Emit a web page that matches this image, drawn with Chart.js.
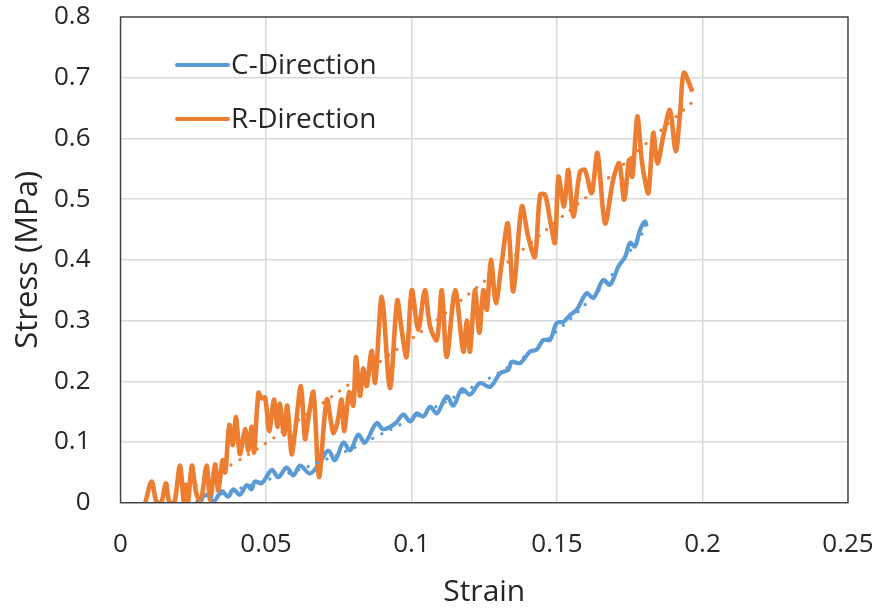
<!DOCTYPE html>
<html>
<head>
<meta charset="utf-8">
<script src="https://cdn.jsdelivr.net/npm/chart.js@4/dist/chart.umd.min.js"></script>
<style>
  html, body { margin: 0; padding: 0; background: #fff; }
  #wrap { width: 879px; height: 609px; position: relative; }
</style>
</head>
<body>
<div id="wrap"><canvas id="stressChart" width="879" height="609"></canvas></div>
<script>
// R-Direction sample (strain, stress in MPa)
const rStrain = [0.0085, 0.0107, 0.0124, 0.0140, 0.0156, 0.0168, 0.0185, 0.0204, 0.0218, 0.0225, 0.0232, 0.0245,
  0.0260, 0.0275, 0.0296, 0.0308, 0.0325, 0.0336, 0.0351, 0.0360, 0.0374, 0.0386, 0.0397, 0.0410, 0.0428,
  0.0439, 0.0451, 0.0459, 0.0474, 0.0485, 0.0497, 0.0511, 0.0527, 0.0539, 0.0548, 0.0562, 0.0573, 0.0588,
  0.0600, 0.0620, 0.0634, 0.0645, 0.0663, 0.0682, 0.0709, 0.0731, 0.0745, 0.0760, 0.0769, 0.0786, 0.0800,
  0.0809, 0.0823, 0.0834, 0.0846, 0.0863, 0.0875, 0.0898, 0.0926, 0.0951, 0.0966, 0.0983, 0.1001, 0.1023,
  0.1046, 0.1064, 0.1087, 0.1104, 0.1121, 0.1150, 0.1178, 0.1190, 0.1201, 0.1218, 0.1233, 0.1247, 0.1259,
  0.1273, 0.1290, 0.1310, 0.1331, 0.1350, 0.1379, 0.1401, 0.1424, 0.1442, 0.1459, 0.1476, 0.1493, 0.1505,
  0.1524, 0.1539, 0.1556, 0.1579, 0.1596, 0.1619, 0.1639, 0.1665, 0.1693, 0.1714, 0.1731, 0.1748, 0.1759,
  0.1776, 0.1791, 0.1800, 0.1814, 0.1831, 0.1845, 0.1865, 0.1888, 0.1908, 0.1923, 0.1936, 0.1965];
const rStress = [0, 0.035, 0, 0, 0.032, 0, 0, 0.061, 0, 0.03, 0, 0.061,
  0.016, 0, 0.061, 0.005, 0.063, 0.02, 0.07, 0.05, 0.128, 0.095, 0.141, 0.08, 0.121,
  0.086, 0.125, 0.083, 0.181, 0.172, 0.173, 0.118, 0.17, 0.125, 0.163, 0.112, 0.16, 0.08,
  0.118, 0.192, 0.105, 0.137, 0.182, 0.042, 0.17, 0.115, 0.131, 0.17, 0.118, 0.182, 0.16,
  0.24, 0.176, 0.221, 0.192, 0.25, 0.198, 0.339, 0.189, 0.333, 0.285, 0.24, 0.35, 0.285,
  0.35, 0.29, 0.268, 0.35, 0.24, 0.35, 0.249, 0.30, 0.249, 0.35, 0.28, 0.35, 0.318,
  0.40, 0.329, 0.395, 0.46, 0.348, 0.488, 0.438, 0.405, 0.507, 0.507, 0.466, 0.428, 0.537,
  0.488, 0.548, 0.471, 0.545, 0.548, 0.51, 0.576, 0.46, 0.532, 0.559, 0.499, 0.565, 0.537,
  0.636, 0.565, 0.537, 0.51, 0.609, 0.559, 0.603, 0.647, 0.579, 0.642, 0.708, 0.677];

// C-Direction sample
const cStrain = [0.0260, 0.0296, 0.0320, 0.0348, 0.0370, 0.0388, 0.0410, 0.0434, 0.0450, 0.0462, 0.0485,
  0.0520, 0.0542, 0.0571, 0.0594, 0.0617, 0.0651, 0.0686, 0.0714, 0.0737, 0.0766, 0.0789, 0.0817, 0.0840,
  0.0880, 0.0903, 0.0943, 0.0972, 0.0995, 0.1018, 0.1041, 0.1064, 0.1087, 0.1121, 0.1144, 0.1173, 0.1201,
  0.1235, 0.1270, 0.1304, 0.1333, 0.1344, 0.1373, 0.1407, 0.1430, 0.1453, 0.1476, 0.1499, 0.1522, 0.1545,
  0.1568, 0.1602, 0.1625, 0.1659, 0.1682, 0.1711, 0.1734, 0.1751, 0.1768, 0.1785, 0.1802, 0.1808];
const cStress = [0, 0.013, 0.002, 0.019, 0.01, 0.022, 0.013, 0.029, 0.022, 0.035, 0.032,
  0.054, 0.042, 0.058, 0.045, 0.061, 0.048, 0.067, 0.086, 0.07, 0.099, 0.086, 0.112, 0.099,
  0.131, 0.121, 0.13, 0.145, 0.134, 0.147, 0.142, 0.158, 0.147, 0.175, 0.16, 0.187, 0.178,
  0.197, 0.191, 0.213, 0.219, 0.232, 0.23, 0.249, 0.252, 0.268, 0.268, 0.296, 0.298, 0.309,
  0.318, 0.345, 0.337, 0.367, 0.359, 0.389, 0.405, 0.428, 0.422, 0.449, 0.463, 0.455];

// fitted trend curves (dotted)
const rTrendStrain = [0.026, 0.04, 0.05, 0.06, 0.07, 0.08, 0.09, 0.10, 0.11, 0.12, 0.13, 0.14, 0.15, 0.16, 0.17, 0.18, 0.19, 0.197];
const rTrendStress = [0.029, 0.068, 0.098, 0.132, 0.166, 0.2, 0.235, 0.27, 0.306, 0.345, 0.384, 0.424, 0.464, 0.503, 0.545, 0.589, 0.632, 0.662];
const cTrendStrain = [0.028, 0.04, 0.05, 0.06, 0.07, 0.08, 0.09, 0.10, 0.11, 0.12, 0.13, 0.14, 0.15, 0.16, 0.17, 0.181];
const cTrendStress = [0.005, 0.022, 0.037, 0.052, 0.07, 0.09, 0.114, 0.138, 0.162, 0.188, 0.214, 0.245, 0.283, 0.328, 0.382, 0.455];

const xTickLabels = ['0', '0.05', '0.1', '0.15', '0.2', '0.25'];
const yTickLabels = ['0', '0.1', '0.2', '0.3', '0.4', '0.5', '0.6', '0.7', '0.8'];

const BLUE = '#5b9bd5';
const ORANGE = '#ed7d31';
const FONT = "'Open Sans', sans-serif";
const TEXT = '#262626';

const toPoints = (xs, ys) => xs.map((x, i) => ({ x: x, y: ys[i] }));

// box around the plot area + legend drawn inside it
const frameAndLegend = {
  id: 'frameAndLegend',
  afterDatasetsDraw(chart) {
    const { ctx, chartArea: a } = chart;
    ctx.save();
    ctx.strokeStyle = '#404040';
    ctx.lineWidth = 1.4;
    ctx.strokeRect(a.left, a.top, a.right - a.left, a.bottom - a.top);

    const entries = chart.data.datasets.filter(ds => !ds.trend);
    ctx.font = `28px ${FONT}`;
    ctx.textBaseline = 'middle';
    ctx.fillStyle = TEXT;
    entries.forEach((ds, i) => {
      const y = 65 + i * 54;
      ctx.strokeStyle = ds.borderColor;
      ctx.lineWidth = 4;
      ctx.lineCap = 'round';
      ctx.beginPath();
      ctx.moveTo(177, y);
      ctx.lineTo(228, y);
      ctx.stroke();
      ctx.fillText(ds.label, 231, y + 1);
    });
    ctx.restore();
  }
};

new Chart(document.getElementById('stressChart'), {
  type: 'line',
  data: {
    datasets: [
      { label: 'R-Direction trend', trend: true, data: toPoints(rTrendStrain, rTrendStress),
        borderColor: ORANGE, borderWidth: 3.2, borderDash: [0.1, 10], borderCapStyle: 'round',
        pointRadius: 0, tension: 0.4, order: 1 },
      { label: 'C-Direction trend', trend: true, data: toPoints(cTrendStrain, cTrendStress),
        borderColor: BLUE, borderWidth: 3.2, borderDash: [0.1, 10], borderCapStyle: 'round',
        pointRadius: 0, tension: 0.4, order: 2 },
      { label: 'C-Direction', data: toPoints(cStrain, cStress),
        borderColor: BLUE, borderWidth: 4.2, pointRadius: 0, tension: 0.35, order: 4 },
      { label: 'R-Direction', data: toPoints(rStrain, rStress),
        borderColor: ORANGE, borderWidth: 4.6, pointRadius: 0, tension: 0.3, order: 3 }
    ]
  },
  options: {
    responsive: false,
    animation: false,
    devicePixelRatio: 1,
    layout: { padding: { left: 0, right: 31, top: 17, bottom: 0 } },
    plugins: {
      legend: { display: false },
      tooltip: { enabled: false }
    },
    scales: {
      x: {
        type: 'linear',
        min: 0,
        max: 0.25,
        afterFit: (scale) => {
          scale.height = 106.3;
          scale.paddingLeft = 0;
          scale.paddingRight = 0;
        },
        afterBuildTicks: (scale) => {
          scale.ticks = xTickLabels.map(v => ({ value: parseFloat(v) }));
        },
        ticks: {
          padding: 26,
          color: TEXT,
          font: { family: FONT, size: 26 },
          callback: (v, i) => xTickLabels[i]
        },
        grid: { color: '#d9d9d9', lineWidth: 1.5, drawTicks: false },
        border: { display: false },
        title: {
          display: true,
          text: 'Strain',
          color: TEXT,
          font: { family: FONT, size: 30, lineHeight: 1.13 },
          padding: { top: 0, bottom: 0 }
        }
      },
      y: {
        type: 'linear',
        min: 0,
        max: 0.8,
        afterFit: (scale) => {
          scale.width = 120.5;
          scale.paddingTop = 0;
          scale.paddingBottom = 0;
        },
        afterBuildTicks: (scale) => {
          scale.ticks = yTickLabels.map(v => ({ value: parseFloat(v) }));
        },
        ticks: {
          padding: 30,
          color: TEXT,
          font: { family: FONT, size: 26 },
          callback: (v, i) => yTickLabels[i]
        },
        grid: { color: '#d9d9d9', lineWidth: 1.5, drawTicks: false },
        border: { display: false },
        title: {
          display: true,
          text: 'Stress (MPa)',
          color: TEXT,
          font: { family: FONT, size: 31, lineHeight: 1.2 },
          padding: { top: 10, bottom: 0 }
        }
      }
    }
  },
  plugins: [frameAndLegend]
});
</script>
</body>
</html>
